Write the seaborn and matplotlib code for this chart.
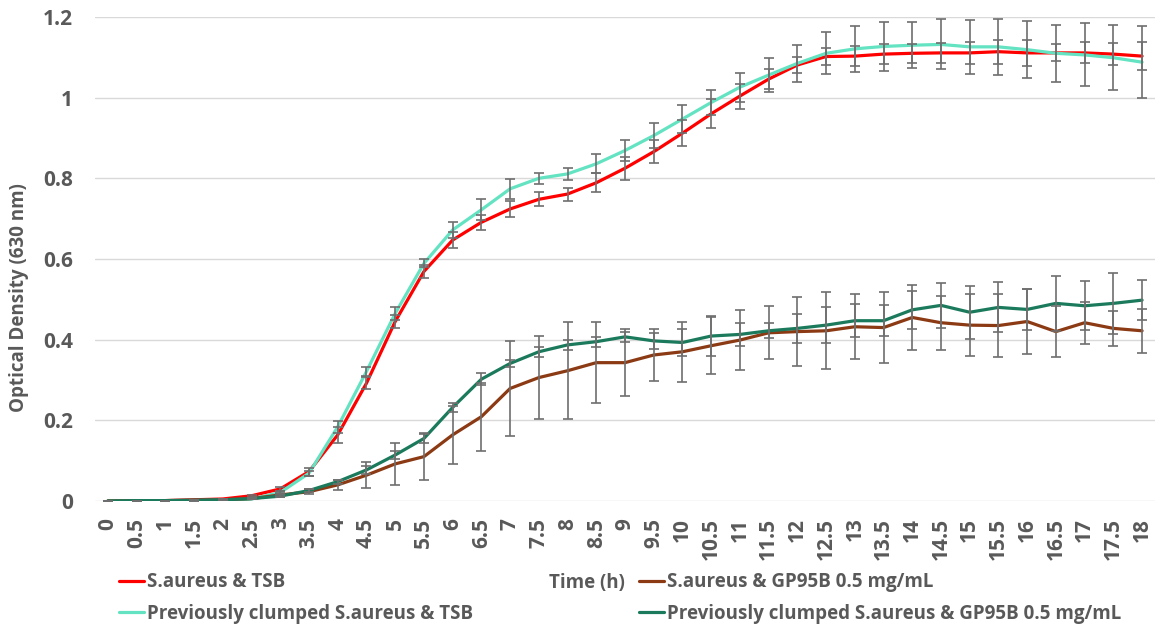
import numpy as np
import pandas as pd
import matplotlib
matplotlib.use("Agg")
import matplotlib.pyplot as plt
import seaborn as sns
from matplotlib.lines import Line2D

# -------------------------
# Data
# -------------------------
time_labels = ["0", "0.5", "1", "1.5", "2", "2.5", "3", "3.5", "4", "4.5", "5", "5.5",
               "6", "6.5", "7", "7.5", "8", "8.5", "9", "9.5", "10", "10.5", "11", "11.5",
               "12", "12.5", "13", "13.5", "14", "14.5", "15", "15.5", "16", "16.5", "17",
               "17.5", "18"]

tsb = [0, 0.001, 0.001, 0.003, 0.005, 0.013, 0.030, 0.073, 0.164, 0.292, 0.445, 0.569,
       0.647, 0.691, 0.724, 0.748, 0.761, 0.789, 0.825, 0.866, 0.912, 0.960, 1.004, 1.046,
       1.081, 1.102, 1.103, 1.108, 1.110, 1.111, 1.111, 1.114, 1.111, 1.111, 1.111, 1.108,
       1.103]
tsb_err = [0, 0, 0, 0, 0, 0.002, 0.004, 0.010, 0.020, 0.015, 0.017, 0.015,
           0.020, 0.019, 0.019, 0.017, 0.016, 0.024, 0.029, 0.029, 0.032, 0.036, 0.031, 0.025,
           0.021, 0.021, 0.025, 0.024, 0.024, 0.024, 0.028, 0.030, 0.032, 0.021, 0.026, 0.028,
           0.034]

clumped_tsb = [0, 0.001, 0.001, 0.001, 0.002, 0.005, 0.021, 0.069, 0.184, 0.321, 0.465, 0.589,
               0.672, 0.722, 0.774, 0.800, 0.811, 0.836, 0.869, 0.906, 0.947, 0.988, 1.026, 1.056,
               1.085, 1.110, 1.121, 1.127, 1.130, 1.132, 1.126, 1.126, 1.119, 1.110, 1.106, 1.099,
               1.088]
clumped_tsb_err = [0, 0, 0, 0, 0, 0, 0.003, 0.006, 0.015, 0.012, 0.015, 0.010,
                   0.020, 0.026, 0.025, 0.014, 0.015, 0.024, 0.026, 0.032, 0.034, 0.032, 0.036, 0.043,
                   0.045, 0.052, 0.057, 0.061, 0.057, 0.062, 0.067, 0.069, 0.071, 0.071, 0.078, 0.081,
                   0.089]

gp95b = [0, 0.001, 0.001, 0.002, 0.003, 0.006, 0.015, 0.023, 0.040, 0.064, 0.092, 0.110,
         0.164, 0.209, 0.279, 0.306, 0.323, 0.343, 0.343, 0.362, 0.370, 0.385, 0.399, 0.417,
         0.420, 0.422, 0.432, 0.430, 0.455, 0.442, 0.436, 0.435, 0.445, 0.420, 0.442, 0.428,
         0.422]
gp95b_err = [0, 0, 0, 0, 0, 0.002, 0.004, 0.006, 0.012, 0.032, 0.052, 0.059,
             0.072, 0.084, 0.118, 0.102, 0.120, 0.101, 0.083, 0.064, 0.074, 0.070, 0.074, 0.066,
             0.085, 0.095, 0.080, 0.088, 0.081, 0.067, 0.076, 0.079, 0.080, 0.064, 0.052, 0.044,
             0.054]

clumped_gp95b = [0, 0.001, 0.001, 0.002, 0.003, 0.006, 0.012, 0.026, 0.048, 0.077, 0.114, 0.155,
                 0.232, 0.302, 0.341, 0.370, 0.387, 0.395, 0.407, 0.397, 0.393, 0.409, 0.413, 0.422,
                 0.428, 0.436, 0.447, 0.447, 0.474, 0.485, 0.468, 0.480, 0.475, 0.490, 0.484, 0.490,
                 0.498]
clumped_gp95b_err = [0, 0, 0, 0, 0, 0, 0.003, 0.004, 0.005, 0.010, 0.010, 0.012,
                     0.012, 0.015, 0.008, 0.012, 0.012, 0.012, 0.012, 0.019, 0.033, 0.050, 0.029, 0.019,
                     0.036, 0.044, 0.041, 0.039, 0.047, 0.055, 0.066, 0.062, 0.050, 0.069, 0.061, 0.075,
                     0.049]

series_names = ["S.aureus & TSB",
                "Previously clumped S.aureus & TSB",
                "S.aureus & GP95B 0.5 mg/mL",
                "Previously clumped S.aureus & GP95B 0.5 mg/mL"]
series_colors = ["#FF0000", "#63E3C1", "#8B3A14", "#1B7A5C"]

# -------------------------
# Long format for seaborn
# -------------------------
x_pos = np.arange(len(time_labels))
values = [tsb, clumped_tsb, gp95b, clumped_gp95b]
errors = [tsb_err, clumped_tsb_err, gp95b_err, clumped_gp95b_err]

df = pd.concat([
    pd.DataFrame({"pos": x_pos, "od": v, "err": e, "series": n})
    for n, v, e in zip(series_names, values, errors)
], ignore_index=True)

# -------------------------
# Plot
# -------------------------
sns.set_theme(style="white")
plt.rcParams["font.family"] = ["Open Sans", "DejaVu Sans"]
text_col = "#595959"

fig = plt.figure(figsize=(11.57, 6.34), dpi=100)
ax = fig.add_axes([95 / 1157, 1 - 501 / 634, 1060 / 1157, 484 / 634])

ax.grid(axis="y", color="#D9D9D9", linewidth=1.0)
ax.set_axisbelow(True)

sns.lineplot(data=df, x="pos", y="od", hue="series", hue_order=series_names,
             palette=series_colors, linewidth=2.3, legend=False, ax=ax, zorder=2)

# error bars drawn on top, like the original
for name in series_names:
    sub = df[df["series"] == name]
    ax.errorbar(sub["pos"], sub["od"], yerr=sub["err"], fmt="none",
                ecolor="#6E6E6E", elinewidth=1.2, capsize=3.4, capthick=1.2, zorder=3)

ax.set_xlim(-0.45, len(time_labels) - 0.55)
ax.set_ylim(0, 1.2)
ax.set_yticks([0, 0.2, 0.4, 0.6, 0.8, 1.0, 1.2])
ax.set_yticklabels(["0", "0.2", "0.4", "0.6", "0.8", "1", "1.2"])
ax.set_xticks(x_pos)
ax.set_xticklabels(time_labels, rotation=90)
ax.tick_params(axis="both", length=0, labelsize=15, labelcolor=text_col)
ax.tick_params(axis="y", pad=16)
ax.tick_params(axis="x", pad=12)
for lab in ax.get_xticklabels() + ax.get_yticklabels():
    lab.set_fontweight("bold")

for s in ax.spines.values():
    s.set_visible(False)

ax.set_ylabel("Optical Density (630 nm)", fontsize=13.5, fontweight="bold", color=text_col)
ax.yaxis.set_label_coords((29 - 95) / 1060, (501 - 298) / 484)

ax.set_xlabel("Time (h)", fontsize=13.5, fontweight="bold", color=text_col, va="center")
ax.xaxis.set_label_coords((587 - 95) / 1060, (501 - 583) / 484)

# legend split into two columns, as in the original layout
def handles_for(idx):
    return [Line2D([0], [0], color=series_colors[i], linewidth=2.3) for i in idx]

leg_kw = dict(frameon=False, handlelength=1.33, handletextpad=0.15,
              labelspacing=0.62, labelcolor=text_col, prop={"weight": "bold", "size": 13.5})
fig.legend(handles_for([0, 1]), series_names[:2], loc="center left",
           bbox_to_anchor=(102 / 1157, 1 - 598 / 634), **leg_kw)
fig.legend(handles_for([2, 3]), series_names[2:], loc="center left",
           bbox_to_anchor=(622 / 1157, 1 - 598 / 634), **leg_kw)

fig.savefig("out.png", dpi=100, facecolor="white")
